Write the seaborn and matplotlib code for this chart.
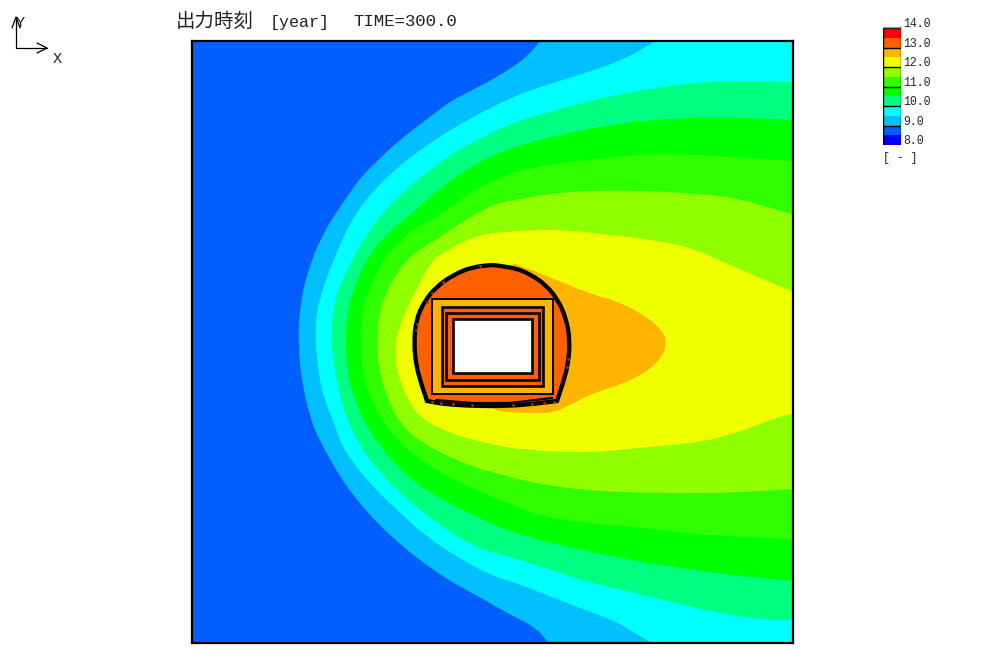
import numpy as np
import matplotlib
matplotlib.use("Agg")
import matplotlib.pyplot as plt
from matplotlib.colors import ListedColormap
from matplotlib.patches import Rectangle, PathPatch
from matplotlib.path import Path
import seaborn as sns

# field extent (model plane)
x_min, x_max = 192, 793
y_top, y_bottom = 41, 643

# contour boundaries, from the top/right round the left side to the bottom/right
c90 = [(540,41),(528,57),(497,77),(467,93),(452,100),(430,117),(403,137),(380,158),(360,178),(347,197),(340,207),
       (325,230),(310,263),(300,303),(298,343),(302,383),(310,417),(319,440),(340,477),(357,500),(377,523),(403,547),
       (433,570),(457,585),(483,599),(507,613),(535,627),(549,643)]
c95 = [(655,41),(630,58),(573,77),(530,90),(500,103),(473,117),(447,132),(420,150),(397,168),(377,187),(360,207),
       (348,227),(332,263),(318,303),(315,330),(317,363),(323,397),(335,425),(340,442),(353,463),(373,487),(400,513),
       (427,537),(457,557),(490,575),(513,582),(547,595),(580,608),(613,620),(633,632),(652,643)]
c100 = [(793,82),(733,80),(673,85),(613,95),(567,107),(530,117),(500,128),(473,142),(450,155),(427,172),(403,192),
        (383,212),(367,233),(350,263),(335,297),(331,330),(333,363),(340,397),(347,420),(360,447),(380,473),(407,500),
        (437,523),(473,547),(513,558),(547,568),(580,580),(613,588),(663,600),(717,613),(763,620),(793,620)]
c105 = [(793,120),(737,117),(680,118),(630,122),(580,130),(530,142),(500,152),(477,163),(453,178),(430,197),(410,215),
        (388,232),(365,260),(348,303),(345,343),(348,380),(357,405),(363,420),(377,443),(403,473),(430,493),(467,513),
        (513,533),(547,542),(590,552),(640,562),(680,568),(730,575),(793,581)]
c110 = [(793,161),(737,157),(663,153),(613,157),(563,163),(530,168),(500,177),(480,187),(460,200),(440,215),(420,225),
        (408,233),(395,247),(382,260),(363,303),(360,343),(363,380),(374,405),(382,420),(397,440),(420,460),(450,478),
        (487,495),(520,508),(537,515),(580,523),(640,527),(697,535),(793,539)]
c115 = [(793,215),(757,203),(717,195),(670,192),(613,190),(563,192),(530,197),(497,203),(473,215),(450,230),(430,243),
        (404,260),(380,303),(376,343),(380,377),(390,405),(398,420),(413,437),(440,453),(473,467),(520,480),(563,488),
        (613,492),(663,493),(730,493),(793,489)]
c120 = [(793,292),(733,267),(693,248),(653,240),(603,234),(553,229),(500,232),(480,235),(460,243),(443,253),(432,260),
        (410,300),(393,343),(398,377),(410,405),(423,420),(447,432),(480,442),(520,450),(590,453),
        (637,448),(697,443),(737,433),(777,417),(793,414)]
c125 = [(513,263),(553,278),(587,293),(620,302),(647,317),(662,330),(667,342),(662,357),(647,372),(620,385),
        (593,393),(570,405),(553,413),(530,413),(500,412),(490,407)]

contour_lines = [c90, c95, c100, c105, c110, c115, c120, c125]
field_colors = ["#00C0FF", "#00FFFF", "#00FF80", "#00FF00", "#30FF00", "#90FF00", "#F0FF00", "#FFB400"]
base_color = "#0060FF"

# tunnel lining and the boxes inside it (doubled points keep the two base corners sharp)
lining = [(492,265),(512,267),(530,274),(546,285),(558,300),(566,318),(570,340),(568,365),(563,383),(557,401),(557,401),
          (533,404),(507,406),(473,406),(443,404),(427,401),(427,401),(421,383),(416,365),(414,343),(416,320),(424,302),
          (436,287),(453,275),(472,267),(492,265)]
invert = [(436,400),(472,403),(510,403),(552,398)]
box_x0 = [432, 442, 446, 453]
box_x1 = [553, 543, 539, 532]
box_y0 = [299, 307, 313, 319]
box_y1 = [394, 386, 380, 373]
box_fill = ["#FFB400", "#FF6000", "#FF6000", "#FFFFFF"]
box_lw = [1.4, 1.9, 1.9, 1.9]
bolts_x = [480, 443, 432, 427, 417, 416, 568, 567, 432, 441, 453, 472, 513, 532, 544, 554]
bolts_y = [266, 282, 293, 302, 324, 330, 359, 367, 402, 403, 404, 405, 405, 404, 403, 402]

# legend
legend_values = [13.75, 13.25, 12.75, 12.25, 11.75, 11.25, 10.75, 10.25, 9.75, 9.25, 8.75, 8.25]
legend_colors = ["#FF0000", "#FF6000", "#FFB400", "#F0FF00", "#90FF00", "#30FF00",
                 "#00FF00", "#00FF80", "#00FFFF", "#00C0FF", "#0060FF", "#0000FF"]
legend_labels = ["14.0", "13.0", "12.0", "11.0", "10.0", "9.0", "8.0"]

W, H = 993, 649
sns.set_style("white")
mono = ["Liberation Mono", "Noto Sans CJK JP"]


def band_path(pts):
    # read points act as control points of a smooth outline
    verts = [pts[0]]
    codes = [Path.MOVETO]
    for a, b in zip(pts[1:-1], pts[2:]):
        verts += [a, ((a[0]+b[0])/2, (a[1]+b[1])/2)]
        codes += [Path.CURVE3, Path.CURVE3]
    verts.append(pts[-1])
    codes.append(Path.LINETO)
    return verts, codes


fig = plt.figure(figsize=(W/100, H/100), dpi=100)

# page overlay in pixel units for title and axis symbol
page = fig.add_axes([0, 0, 1, 1])
page.set_xlim(0, W)
page.set_ylim(H, 0)
page.axis("off")

ax = fig.add_axes([x_min/W, 1-y_bottom/H, (x_max-x_min)/W, (y_bottom-y_top)/H])
ax.set_xlim(x_min, x_max)
ax.set_ylim(y_bottom, y_top)
ax.set_facecolor(base_color)

for line, col in zip(contour_lines, field_colors):
    verts, codes = band_path(line)
    if line is c90 or line is c95:
        verts += [(x_max, y_bottom), (x_max, y_top)]
        codes += [Path.LINETO, Path.LINETO]
    verts.append(line[0])
    codes.append(Path.CLOSEPOLY)
    ax.add_patch(PathPatch(Path(verts, codes), fc=col, ec="none", lw=0))

verts, codes = band_path(lining)
ax.add_patch(PathPatch(Path(verts, codes), fc="#FF6000", ec="none", lw=0, zorder=3))
for i in range(len(box_x0)):
    ax.add_patch(Rectangle((box_x0[i], box_y0[i]), box_x1[i]-box_x0[i], box_y1[i]-box_y0[i],
                           fc=box_fill[i], ec="black", lw=box_lw[i], zorder=4))
ax.add_patch(PathPatch(Path(verts, codes), fc="none", ec="black", lw=3.1, zorder=5))

sns.lineplot(x=[p[0] for p in invert], y=[p[1] for p in invert], color="black", lw=1.6,
             sort=False, estimator=None, ax=ax, zorder=5)
sns.scatterplot(x=bolts_x, y=bolts_y, color="#A04000", s=4, linewidth=0, ax=ax, zorder=6)

ax.set_xlim(x_min, x_max)
ax.set_ylim(y_bottom, y_top)
ax.set_xticks([])
ax.set_yticks([])
ax.set_xlabel("")
ax.set_ylabel("")
for s in ax.spines.values():
    s.set_visible(True)
    s.set_color("black")
    s.set_linewidth(1.6)

# legend bar
cb = fig.add_axes([883/W, 1-145/H, 18/W, 117/H])
sns.heatmap(np.array(legend_values).reshape(-1, 1), cmap=ListedColormap(legend_colors[::-1]), cbar=False,
            xticklabels=False, yticklabels=False, ax=cb)
for k, lab in enumerate(legend_labels):
    cb.axhline(k*2, color="black", lw=1.0)
    cb.text(1.12, k*2-0.4, lab, family=mono, fontsize=8.3, va="center", ha="left", clip_on=False)
cb.axvline(0, color="black", lw=1.0)
cb.axvline(1, color="black", lw=1.0)
cb.plot([0, 1], [-0.12, -0.12], color="#F08080", lw=1.0, clip_on=False)
cb.text(0.02, 13.35, "[ - ]", family=mono, fontsize=8.3, va="center", ha="left", clip_on=False)

# title pieces
page.text(176, 22, "出力時刻", family=mono, fontsize=14, va="center", ha="left", color="#202020")
page.text(270, 22, "[year]", family=mono, fontsize=12, va="center", ha="left", color="#202020")
page.text(353, 22, "TIME=300.0", family=mono, fontsize=12.5, va="center", ha="left", color="#202020")

# XY symbol
page.plot([16, 16, 47], [17, 48, 48], color="black", lw=0.9)
page.plot([37, 47, 37], [43, 48, 53], color="black", lw=0.9)
page.plot([12, 16, 20], [28, 17, 28], color="black", lw=0.9)
page.text(20, 23, "Y", family=mono, fontsize=11, va="center", ha="center")
page.text(57, 59, "X", family=mono, fontsize=11, va="center", ha="center")

fig.savefig("out.png", dpi=100)
